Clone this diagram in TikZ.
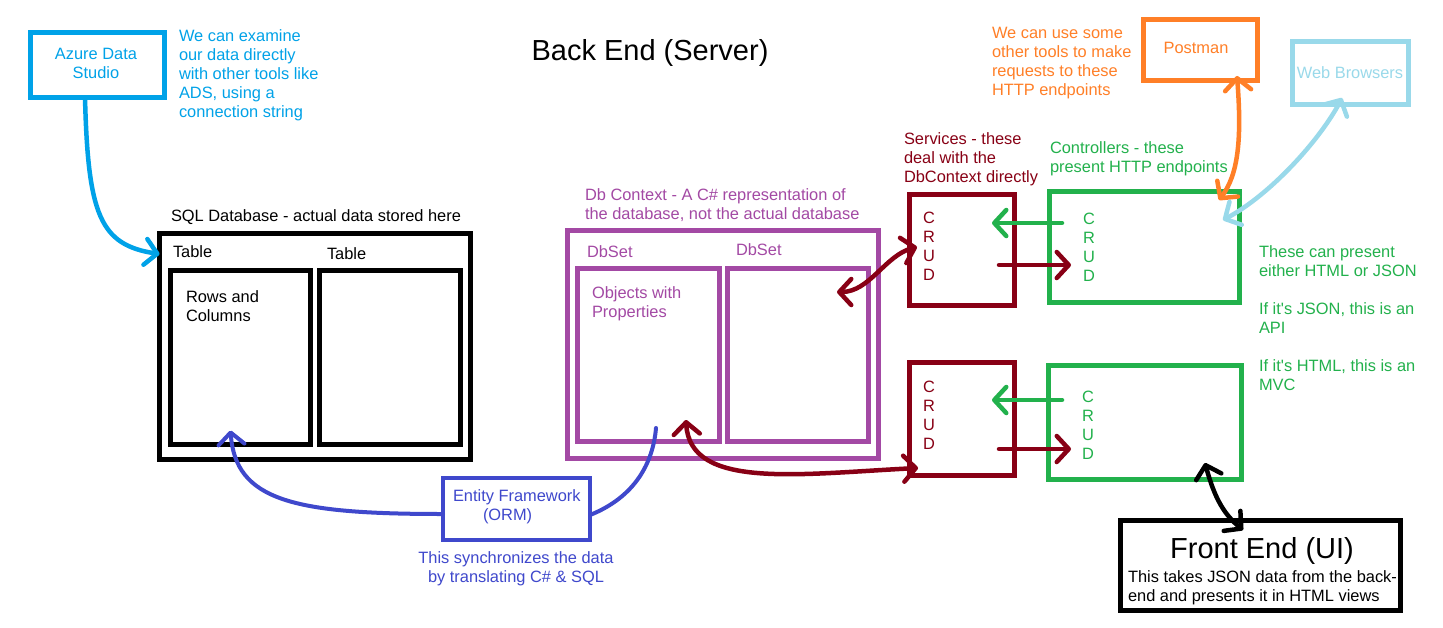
\documentclass[tikz,border=0pt]{standalone}
\usepackage{fontspec}
\setmainfont{Liberation Sans}
\usetikzlibrary{arrows.meta}
\definecolor{adsblue}{HTML}{00A2E8}
\definecolor{dbpurple}{HTML}{A349A4}
\definecolor{efblue}{HTML}{3F48CC}
\definecolor{svred}{HTML}{880015}
\definecolor{ctgreen}{HTML}{22B14C}
\definecolor{pmorange}{HTML}{FF7F27}
\definecolor{wbblue}{HTML}{99D9EA}
\begin{document}
\begin{tikzpicture}[x=1pt,y=-1pt,
  bx/.style={draw, line width=4.5pt, inner sep=0pt, outer sep=0pt, anchor=north west},
  txt/.style={inner sep=0pt, outer sep=0pt, font=\fontsize{16.4}{19}\selectfont, align=left, anchor=north west},
  ctxt/.style={txt, align=center, anchor=north},
  big/.style={inner sep=0pt, outer sep=0pt, font=\fontsize{29}{34}\selectfont, anchor=base},
  conn/.style={line width=4.5pt, line cap=round, line join=round},
  >={Straight Barb[length=12pt,width=26pt,round]}]
\useasboundingbox (0,0) rectangle (1443,627);
\fill[white] (0,0) rectangle (1443,627);

% boxes
\node[bx, draw=adsblue, line width=5pt, minimum width=134pt, minimum height=65pt] (ads) at (30.5,32.5) {};
\node[bx, minimum width=311pt, minimum height=226pt] (sql) at (159.5,233.5) {};
\node[bx, minimum width=140pt, minimum height=174pt] (t1) at (170.5,270.5) {};
\node[bx, minimum width=141pt, minimum height=174pt] (t2) at (319.5,270.5) {};
\node[bx, draw=dbpurple, line width=5pt, minimum width=311pt, minimum height=228pt] (dbc) at (567.5,230.5) {};
\node[bx, draw=dbpurple, minimum width=142pt, minimum height=173pt] (ds1) at (577.5,268.5) {};
\node[bx, draw=dbpurple, minimum width=141pt, minimum height=173pt] (ds2) at (727.5,268.5) {};
\node[bx, draw=efblue, line width=4pt, minimum width=147pt, minimum height=62pt] (ef) at (443,478) {};
\node[bx, draw=svred, minimum width=105pt, minimum height=111pt] (sv1) at (909.5,194.5) {};
\node[bx, draw=svred, minimum width=105pt, minimum height=113pt] (sv2) at (909.5,362.5) {};
\node[bx, draw=ctgreen, minimum width=190pt, minimum height=111pt] (c1) at (1049.5,191.5) {};
\node[bx, draw=ctgreen, minimum width=193pt, minimum height=114pt] (c2) at (1048.5,365.5) {};
\node[bx, draw=pmorange, minimum width=114pt, minimum height=61pt] (pm) at (1143.5,19.5) {};
\node[bx, draw=wbblue, minimum width=116pt, minimum height=63pt] (wb) at (1292.5,41.5) {};
\node[bx, line width=5pt, minimum width=280pt, minimum height=90pt] (fe) at (1120.5,520.5) {};

% texts
\node[ctxt, text=adsblue] (adslbl) at (96,48) {Azure Data\\Studio};
\node[txt, text=adsblue] (adsnote) at (179,30) {We can examine\\our data directly\\with other tools like\\ADS, using a\\connection string};
\node[big] (title) at (650,60) {Back End (Server)};
\node[txt] (sqllbl) at (171,210) {SQL Database - actual data stored here};
\node[txt] (t1lbl) at (173,246) {Table};
\node[txt] (t2lbl) at (327,248) {Table};
\node[txt] (rows) at (186,291) {Rows and\\Columns};
\node[txt, text=dbpurple] (dbclbl) at (585,189) {Db Context - A C\# representation of\\the database, not the actual database};
\node[txt, text=dbpurple] (ds1lbl) at (587,246) {DbSet};
\node[txt, text=dbpurple] (ds2lbl) at (736,244) {DbSet};
\node[txt, text=dbpurple] (objs) at (592,287) {Objects with\\Properties};
\node[txt, text=efblue] (eflbl) at (453,490) {Entity Framework\\\hspace*{30pt}(ORM)};
\node[ctxt, text=efblue] (efnote) at (516,552) {This synchronizes the data\\by translating C\# \& SQL};
\node[txt, text=svred] (svlbl) at (904,133) {Services - these\\deal with the\\DbContext directly};
\node[txt, text=ctgreen] (ctlbl) at (1050,142) {Controllers - these\\present HTTP endpoints};
\node[txt, text=pmorange] (pmnote) at (992,27) {We can use some\\other tools to make\\requests to these\\HTTP endpoints};
\node[txt, text=pmorange, anchor=center] (pmlbl) at (1196,48) {Postman};
\node[txt, text=wbblue, anchor=center] (wblbl) at (1350,73) {Web Browsers};
\node[ctxt, text=svred] (crud1) at (929,212) {C\\R\\U\\D};
\node[ctxt, text=ctgreen] (crud2) at (1089,213) {C\\R\\U\\D};
\node[ctxt, text=svred] (crud3) at (929,381) {C\\R\\U\\D};
\node[ctxt, text=ctgreen] (crud4) at (1088,391) {C\\R\\U\\D};
\node[txt, text=ctgreen] (apinote) at (1259,246) {These can present\\either HTML or JSON\\\mbox{}\\If it\textquotesingle s JSON, this is an\\API\\\mbox{}\\If it\textquotesingle s HTML, this is an\\MVC};
\node[big] (fetitle) at (1262,558) {Front End (UI)};
\node[txt] (fenote) at (1128,571) {This takes JSON data from the back-\\end and presents it in HTML views};

% connectors
\draw[conn, adsblue, ->] ([xshift=-12.5pt]ads.south) .. controls +(3,117.5) and +(-59.5,-9) .. ([yshift=-20.5pt]sql.north west);
\draw[conn, efblue, line width=4pt, ->] ([yshift=-5pt]ef.west) .. controls +(-150,0) and +(5,70) .. ([xshift=-10pt,yshift=14pt]t1.south);
\draw[conn, efblue, line width=4pt] ([yshift=-6pt]ef.east) .. controls +(45,-18) and +(-3,35) .. ([xshift=7.5pt,yshift=13.5pt]ds1.south);
\draw[conn, svred, <->] ([xshift=37.5pt,yshift=21.5pt]ds1.south) .. controls +(4,70) and +(-120,6) .. ([xshift=8.5pt,yshift=7.5pt]sv2.south west);
\draw[conn, svred, <->] ([xshift=-31.5pt,yshift=-23.5pt]ds2.north east) .. controls +(33,0) and +(-32,8) .. ([xshift=7.5pt,yshift=3pt]sv1.west);
\draw[conn, ctgreen, ->] ([xshift=12.5pt,yshift=-31.5pt]c1.north west) -- ([xshift=-22.5pt,yshift=-28.5pt]sv1.north east);
\draw[conn, svred, ->] ([xshift=-15.5pt,yshift=40.5pt]sv1.south east) -- ([xshift=21.5pt,yshift=37.5pt]c1.south west);
\draw[conn, ctgreen, ->] ([xshift=13.5pt,yshift=-34.5pt]c2.north west) -- ([xshift=-22.5pt,yshift=-37.5pt]sv2.north east);
\draw[conn, svred, ->] ([xshift=-15.5pt,yshift=26.5pt]sv2.south east) -- ([xshift=22.5pt,yshift=30.5pt]c2.south west);
\draw[conn, pmorange, <->] ([xshift=-20.5pt,yshift=4.5pt]pm.south east) .. controls +(5,64) and +(19,-25) .. ([xshift=-20.5pt,yshift=-8.5pt]c1.north east);
\draw[conn, wbblue, <->] ([xshift=49.5pt,yshift=6.5pt]wb.south west) .. controls +(-22,42) and +(47,-25) .. ([xshift=-16.5pt,yshift=-28.5pt]c1.north east);
\draw[conn, <->] ([xshift=-36.5pt,yshift=16.5pt]c2.south east) .. controls +(10,37) and +(-18,-15) .. ([xshift=-17.5pt,yshift=-9.5pt]fe.north);
\end{tikzpicture}
\end{document}
